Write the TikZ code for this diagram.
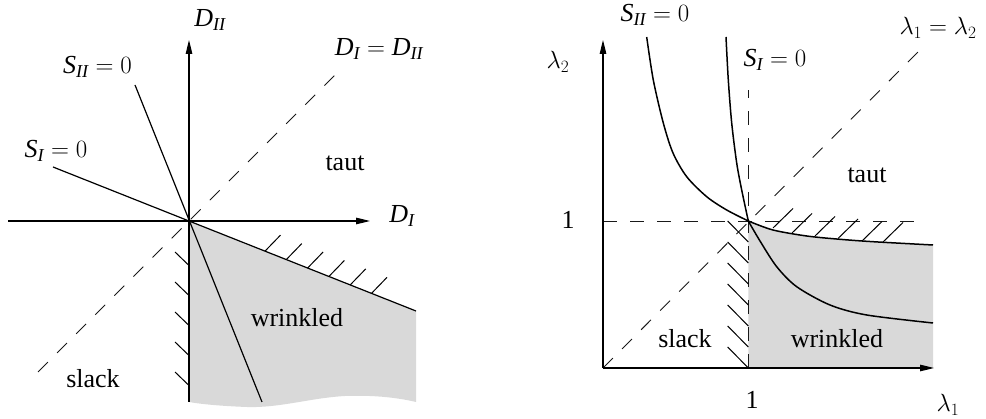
\documentclass[tikz,border=0pt]{standalone}
\usepackage{amsmath}
\usepackage{fontspec}
\setmainfont{Liberation Serif}
\usetikzlibrary{arrows.meta}
\begin{document}
\begin{tikzpicture}[x=1pt,y=-1pt,
  every node/.style={font=\fontsize{26}{31}\selectfont, inner sep=0pt},
  ax/.style={line width=1.2pt,-{Triangle[length=14pt,width=6.5pt]}},
  ln/.style={line width=1.2pt},
  crv/.style={line width=1.5pt},
  dsh/.style={line width=0.9pt, dash pattern=on 14pt off 13pt, black!90},
  hatch/.style={line width=1pt},
  region/.style={fill=black!15}]
\useasboundingbox (0,0) rectangle (986,419);

% ---------------- left panel ----------------
\coordinate (O1) at (189,221);
\coordinate (R1) at (416,311);
\fill[region] (O1) -- (R1) -- (416,402)
  .. controls (395,397) and (370,395) .. (345,396)
  .. controls (310,398) and (280,408) .. (247,407)
  .. controls (220,406) and (200,404) .. (189,402) -- cycle;
\draw[dsh] (38,372) -- (340,70);
\draw[ax] (8,221) -- (370,221);
\draw[ax] (189,402) -- (O1) -- (189,40);
\draw[ln] (53,167) -- (O1) -- (R1);
\draw[ln] (135,85) -- (262,402);
% hatches on S_I boundary
\foreach \k in {0,...,5}{
  \pgfmathsetmacro{\bx}{265+21.3*\k}
  \pgfmathsetmacro{\by}{221+0.3965*(\bx-189)}
  \draw[hatch] (\bx,\by) -- ++(15.5,-16);
}
% hatches on vertical boundary
\foreach \k in {0,...,4}{
  \draw[hatch] (175,252+30*\k) -- ++(14,13.5);
}
\node (lDII) at (210,20) {$\textit{D}_{\textit{II}}$};
\node (lDeq) at (379,49) {$\textit{D}_{\textit{I}}=\textit{D}_{\textit{II}}$};
\node (lSII) at (97.5,67) {$\textit{S}_{\textit{II}}=0$};
\node (lSI) at (56,151) {$\textit{S}_{\textit{I}}=0$};
\node (ltaut) at (345,163) {taut};
\node (lDI) at (402,216) {$\textit{D}_{\textit{I}}$};
\node (lwr) at (297,318) {wrinkled};
\node (lsl) at (93,379) {slack};

% ---------------- right panel ----------------
\coordinate (O2) at (603,368);
\coordinate (P) at (748.3,221);
\fill[region] plot[smooth] coordinates {(748.3,221) (773,230) (806.7,236) (840,239.3) (873,241.7) (933,245)}
  -- (933,368) -- (748.3,368) -- cycle;
\draw[dsh] (O2) -- (927,43);
\draw[dsh] (603,221) -- (922,221);
\draw[dsh] (748.3,368) -- (748.3,90);
\draw[ax] (O2) -- (934,368);
\draw[ax] (O2) -- (603,40);
\draw[crv] plot[smooth] coordinates {(646.7,37) (653.3,80) (663.3,123) (673,153) (686.7,176.7) (706.7,196.7) (726.7,210) (748.3,221)};
\draw[crv] plot[smooth] coordinates {(748.3,221) (773,230) (806.7,236) (840,239.3) (873,241.7) (933,245)};
\draw[crv] plot[smooth] coordinates {(726,37) (728.3,80) (731.7,123) (736.7,163) (741.7,190) (748.3,221)};
\draw[crv] plot[smooth] coordinates {(748.3,221) (760,241) (776.7,266.7) (796.7,286.7) (830,305) (866.7,315) (933,323)};
% hatches above taut boundary
\foreach \bx/\by in {773/228,792/233,815/236,838/238.5,862/241,883/242}{
  \draw[hatch] (\bx,\by) -- ++(20,-19.5);
}
% hatches on slack boundary
\foreach \k in {0,...,6}{
  \draw[hatch] (727.7,221+21*\k) -- ++(20.6,21);
}
\node (rSII) at (655,15) {$\textit{S}_{\textit{II}}=0$};
\node (rSI) at (775,60) {$\textit{S}_{\textit{I}}=0$};
\node (rleq) at (938,28) {$\lambda_1=\lambda_2$};
\node (rl2) at (558,62) {$\lambda_2$};
\node (rone) at (568,220) {1};
\node (rtaut) at (867,175) {taut};
\node (rsl) at (685,339) {slack};
\node (rwr) at (837,339) {wrinkled};
\node (rone2) at (752,400) {1};
\node (rl1) at (948,405) {$\lambda_1$};
\end{tikzpicture}
\end{document}
